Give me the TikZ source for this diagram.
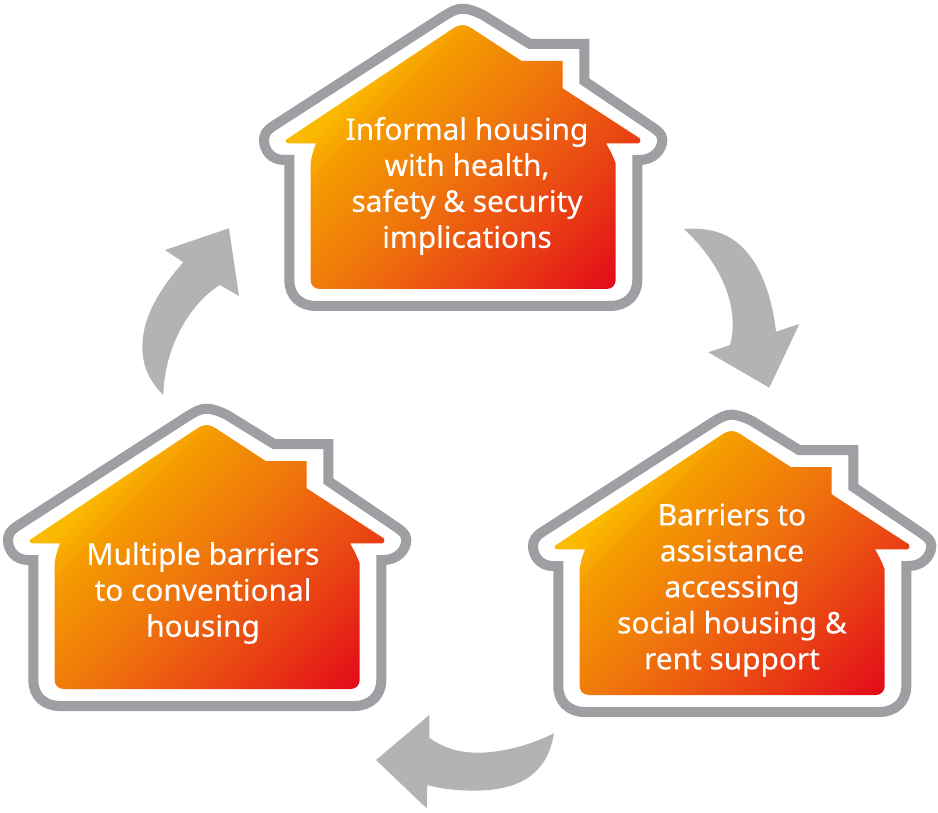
\documentclass[tikz,border=0pt]{standalone}
\usepackage{fontspec}
\setmainfont[FakeBold=0.25]{Noto Sans}
\definecolor{outlinegrey}{HTML}{9D9FA2}
\definecolor{arrowgrey}{HTML}{B3B3B3}
\definecolor{gradA}{HTML}{FBB900}
\definecolor{gradB}{HTML}{F59A00}
\definecolor{gradC}{HTML}{EF760C}
\definecolor{gradD}{HTML}{E94014}
\definecolor{gradE}{HTML}{E2001A}
\pgfdeclarehorizontalshading{housegrad}{100bp}{
  color(0bp)=(gradA);
  color(30bp)=(gradA);
  color(36bp)=(gradB);
  color(50bp)=(gradC);
  color(67bp)=(gradD);
  color(85bp)=(gradE);
  color(100bp)=(gradE)}
\tikzset{
  houseline/.style={draw=outlinegrey,line width=10pt,fill=white,line join=miter},
  housefill/.style={shading=housegrad,shading angle=-45},
  cyclearrow/.style={fill=arrowgrey,draw=none},
  houselabel/.style={text=white,font=\fontsize{29.8}{36}\selectfont,align=center,inner sep=0pt}
}
\newcommand{\housedrawing}{%
  \path[houseline] (289.3,160) -- (284,160) .. controls (271,160) and (264,150) .. (264,140)
    .. controls (264,134) and (267,130) .. (273.3,126) -- (443,16.7)
    .. controls (452,11) and (457,8.7) .. (462.3,8.7)
    .. controls (468,8.7) and (475,11) .. (483,15) -- (530,44) -- (584.3,44) -- (584.3,81)
    -- (651.7,126.7) .. controls (658,131) and (662.3,134) .. (662.3,140)
    .. controls (662.3,150) and (653,160) .. (640,160) -- (637.3,160) -- (637.3,280)
    .. controls (637.3,296) and (626,306) .. (610,306) -- (316,306)
    .. controls (300,306) and (289.3,296) .. (289.3,280) -- cycle;
  \shade[housefill] (316,143.3) -- (288.3,143.3) .. controls (286,143.3) and (285,141.5) .. (285.7,140)
    -- (453.3,28.3) .. controls (457,26) and (460,25) .. (462.3,25)
    .. controls (465,25) and (468,26) .. (471.7,28.3) -- (521.7,61) -- (562.7,61) -- (562.7,88.3)
    -- (640,138.5) .. controls (641.5,141) and (640,143.3) .. (638.3,143.3) -- (606,143.3)
    .. controls (610,150) and (613,156) .. (615.7,163.3) -- (615.7,280)
    .. controls (615.7,285) and (612,289) .. (606.7,289) -- (320,289)
    .. controls (314,289) and (310.7,285) .. (310.7,280) -- (310.7,163.3)
    .. controls (311.5,156) and (313.5,150) .. (316,143.3) -- cycle;
}
\begin{document}
\begin{tikzpicture}[x=1pt,y=-1pt]
\useasboundingbox (0,0) rectangle (938,813);
\fill[white] (0,0) rectangle (938,813);
\begin{scope}\housedrawing\end{scope}
\begin{scope}[shift={(-256,400)}]\housedrawing\end{scope}
\begin{scope}[shift={(269,406)}]\housedrawing\end{scope}
\node[houselabel] (informal) at (467,186) {Informal housing\\with health,\\safety \& security\\implications};
\node[houselabel] (barriers) at (203,593) {Multiple barriers\\to conventional\\housing};
\node[houselabel] (assist) at (732,590) {Barriers to\\assistance\\accessing\\social housing \&\\rent support};
% left arrow
\fill[cyclearrow] (163.3,395) .. controls (146,378) and (141,360) .. (142.7,340)
  .. controls (145,312) and (163,285) .. (183.3,262.3) -- (165,250) -- (229,228.3) -- (239,296) -- (220,285)
  .. controls (195,300) and (165,340) .. (163.3,395) -- cycle;
% right arrow
\fill[cyclearrow] (684,229) .. controls (700,228) and (725,228) .. (745,250)
  .. controls (765,272) and (773,305) .. (776,331.7) -- (799.3,324) -- (769.3,387.7) -- (708.3,352.3) -- (730,345)
  .. controls (737,320) and (733,275) .. (684,229) -- cycle;
% bottom arrow
\fill[cyclearrow] (554,733.3) .. controls (530,745) and (505,752) .. (480,752.7)
  .. controls (460,753) and (443,748) .. (429.3,737.7) -- (429.3,715) -- (376,760) -- (426.7,808.3) -- (427.3,785)
  .. controls (445,790) and (465,791) .. (480,790.5)
  .. controls (525,789) and (548,770) .. (554,733.3) -- cycle;
\end{tikzpicture}
\end{document}
